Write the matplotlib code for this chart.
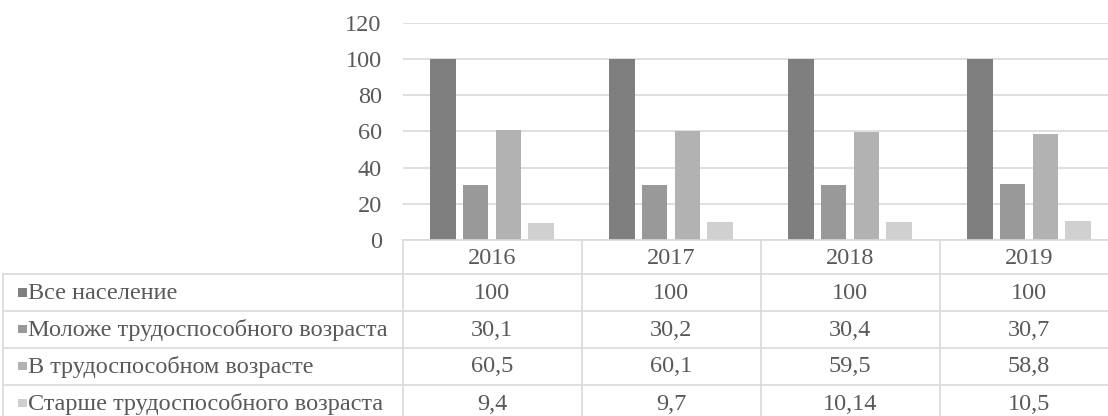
import matplotlib
matplotlib.use("Agg")
import matplotlib.pyplot as plt

years = ["2016", "2017", "2018", "2019"]
series_names = [
    "Все население",
    "Моложе трудоспособного возраста",
    "В трудоспособном возрасте",
    "Старше трудоспособного возраста",
]
all_pop = [100, 100, 100, 100]
young = [30.1, 30.2, 30.4, 30.7]
working = [60.5, 60.1, 59.5, 58.8]
old = [9.4, 9.7, 10.14, 10.5]
series_values = [all_pop, young, working, old]
series_colors = ["#7f7f7f", "#999999", "#b2b2b2", "#d0d0d0"]
yticks = [0, 20, 40, 60, 80, 100, 120]

TEXT = "#595959"
GRID = "#d9d9d9"
FONT = "Liberation Serif"

W, H = 1108, 416
fig = plt.figure(figsize=(W / 100, H / 100), dpi=100)

# pixel geometry of the plot area
left_px, right_px = 402.5, 1118.5
top_px, zero_px = 22.7, 240.0
ax = fig.add_axes([left_px / W, 1 - zero_px / H,
                   (right_px - left_px) / W, (zero_px - top_px) / H])
n = len(years)
ax.set_xlim(-0.5, n - 0.5)
ax.set_ylim(0, 120)

step = 0.183
width = 0.143
for k, (vals, col) in enumerate(zip(series_values, series_colors)):
    xs = [i + (k - 1.5) * step for i in range(n)]
    ax.bar(xs, vals, width=width, color=col, zorder=3)

ax.set_yticks(yticks)
ax.set_yticklabels([str(t) for t in yticks], fontfamily=FONT, fontsize=17.5, color=TEXT)
ax.tick_params(axis="y", length=0, pad=15)
ax.set_xticks([])
ax.grid(axis="y", color=GRID, linewidth=1.2, zorder=0)
for s in ax.spines.values():
    s.set_visible(False)

# data table below the chart, drawn on a full-figure overlay in pixel units
ov = fig.add_axes([0, 0, 1, 1])
ov.set_xlim(0, W)
ov.set_ylim(H, 0)
ov.axis("off")

def xpix(xd):
    return left_px + (xd + 0.5) * (right_px - left_px) / n

table_left = 3.0
row_edges = [240.0, 274.0, 311.0, 347.5, 384.5, 421.5]
col_edges = [xpix(i - 0.5) for i in range(n + 1)]

lw = 1.2
ov.plot([col_edges[0], W + 20], [row_edges[0]] * 2, color=GRID, lw=lw)
for y in row_edges[1:]:
    ov.plot([table_left, W + 20], [y, y], color=GRID, lw=lw)
for x in col_edges[:-1]:
    ov.plot([x, x], [row_edges[0], H + 10], color=GRID, lw=lw)
ov.plot([table_left, table_left], [row_edges[1], H + 10], color=GRID, lw=lw)

fs = 17.5
for i, yr in enumerate(years):
    ov.text(xpix(i), (row_edges[0] + row_edges[1]) / 2 + 1, yr, ha="center", va="center",
            fontfamily=FONT, fontsize=fs, color=TEXT)

def fmt(v):
    return ("%g" % v).replace(".", ",")

for r, (name, vals, col) in enumerate(zip(series_names, series_values, series_colors)):
    yc = (row_edges[r + 1] + row_edges[r + 2]) / 2
    ov.add_patch(plt.Rectangle((18, yc - 4.5), 8.5, 8.5, color=col, lw=0))
    ov.text(28, yc + 1, name, ha="left", va="center", fontfamily=FONT, fontsize=fs, color=TEXT)
    for i, v in enumerate(vals):
        ov.text(xpix(i), yc + 1, fmt(v), ha="center", va="center",
                fontfamily=FONT, fontsize=fs, color=TEXT)

fig.savefig("out.png", dpi=100)
